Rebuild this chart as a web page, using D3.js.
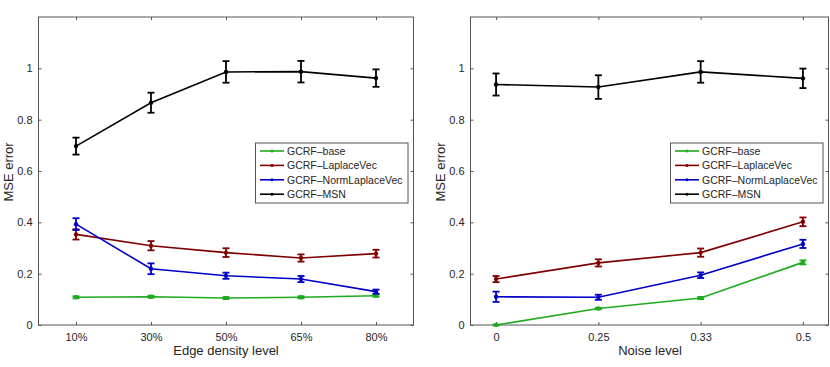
<!DOCTYPE html>
<html><head><meta charset="utf-8">
<script src="https://cdn.jsdelivr.net/npm/d3@7"></script>
<style>body{margin:0;background:#fff}svg{display:block}text{font-family:"Liberation Sans",Arial,sans-serif;fill:#262626}</style>
</head><body>
<script>
const seriesNames = ["GCRF\u2013base","GCRF\u2013LaplaceVec","GCRF\u2013NormLaplaceVec","GCRF\u2013MSN"];
const seriesColors = ["#1faa1f","#7f0000","#0000c8","#000000"];

const leftCategories = ["10%","30%","50%","65%","80%"];
const leftBase = [0.108,0.110,0.105,0.108,0.114];
const leftBaseErr = [0.004,0.004,0.004,0.004,0.004];
const leftLaplace = [0.353,0.309,0.282,0.261,0.278];
const leftLaplaceErr = [0.020,0.018,0.017,0.014,0.015];
const leftNorm = [0.393,0.219,0.192,0.179,0.130];
const leftNormErr = [0.023,0.021,0.012,0.012,0.008];
const leftMSN = [0.697,0.866,0.986,0.987,0.962];
const leftMSNErr = [0.033,0.039,0.042,0.042,0.034];

const rightCategories = ["0","0.25","0.33","0.5"];
const rightBase = [0.0,0.064,0.105,0.244];
const rightBaseErr = [0.002,0.003,0.004,0.008];
const rightLaplace = [0.179,0.242,0.282,0.402];
const rightLaplaceErr = [0.012,0.014,0.016,0.017];
const rightNorm = [0.110,0.108,0.194,0.316];
const rightNormErr = [0.020,0.010,0.011,0.016];
const rightMSN = [0.937,0.927,0.986,0.961];
const rightMSNErr = [0.043,0.046,0.042,0.038];

const yTicks = [0,0.2,0.4,0.6,0.8,1];

const svg = d3.select("body").append("svg").attr("width",830).attr("height",367);

function panel(cfg){
  const g = svg.append("g");
  const n = cfg.cats.length;
  const x = d3.scaleLinear().domain([1 - cfg.pad, n + cfg.pad]).range([cfg.x0, cfg.x1]);
  const y = d3.scaleLinear().domain([0,1.2]).range([325,17]);
  const axisCol = "#555";
  g.append("rect").attr("x",cfg.x0).attr("y",17).attr("width",cfg.x1-cfg.x0).attr("height",308)
    .attr("fill","none").attr("stroke",axisCol).attr("stroke-width",1);
  const idx = d3.range(1,n+1);
  const xb = g.append("g").attr("transform","translate(0,325)")
    .call(d3.axisBottom(x).tickValues(idx).tickFormat((d,i)=>cfg.cats[i]).tickSizeInner(-3).tickSizeOuter(0).tickPadding(8));
  const xt = g.append("g").attr("transform","translate(0,17)")
    .call(d3.axisTop(x).tickValues(idx).tickFormat("").tickSizeInner(-3).tickSizeOuter(0));
  const yl = g.append("g").attr("transform",`translate(${cfg.x0},0)`)
    .call(d3.axisLeft(y).tickValues(yTicks).tickFormat(d3.format("~g")).tickSizeInner(-3).tickSizeOuter(0).tickPadding(6));
  const yr = g.append("g").attr("transform",`translate(${cfg.x1},0)`)
    .call(d3.axisRight(y).tickValues(yTicks).tickFormat("").tickSizeInner(-3).tickSizeOuter(0));
  [xb,xt,yl,yr].forEach(a=>{
    a.select(".domain").remove();
    a.selectAll("line").attr("stroke",axisCol);
    a.selectAll("text").style("font-size","11px").attr("fill","#262626").style("font-family","Liberation Sans, Arial, sans-serif");
  });
  g.append("text").attr("transform",`translate(${cfg.ylx},172) rotate(-90)`).attr("text-anchor","middle")
    .style("font-size","13px").text("MSE error");
  g.append("text").attr("x",(cfg.xlx)).attr("y",355).attr("text-anchor","middle")
    .style("font-size","13px").text(cfg.xlabel);
  const line = d3.line().x((d,i)=>x(i+1)).y(d=>y(d));
  cfg.series.forEach((s,k)=>{
    const col = seriesColors[k];
    g.append("path").datum(s.v).attr("d",line).attr("fill","none").attr("stroke",col).attr("stroke-width",1.6);
    s.v.forEach((v,i)=>{
      const cx = x(i+1), e = s.e[i];
      const eb = g.append("g").attr("stroke",col).attr("stroke-width",1.8);
      eb.append("line").attr("x1",cx).attr("x2",cx).attr("y1",y(v-e)).attr("y2",y(v+e));
      eb.append("line").attr("x1",cx-3.5).attr("x2",cx+3.5).attr("y1",y(v-e)).attr("y2",y(v-e));
      eb.append("line").attr("x1",cx-3.5).attr("x2",cx+3.5).attr("y1",y(v+e)).attr("y2",y(v+e));
      g.append("circle").attr("cx",cx).attr("cy",y(v)).attr("r",2.2).attr("fill",col);
    });
  });
  const lg = g.append("g");
  lg.append("rect").attr("x",cfg.lx).attr("y",143).attr("width",152.5).attr("height",60)
    .attr("fill","#fff").attr("stroke","#555").attr("stroke-width",1);
  seriesNames.forEach((nm,k)=>{
    const yy = 151 + k*14.4;
    lg.append("line").attr("x1",cfg.lx+4.5).attr("x2",cfg.lx+28.5).attr("y1",yy).attr("y2",yy)
      .attr("stroke",seriesColors[k]).attr("stroke-width",1.6);
    lg.append("circle").attr("cx",cfg.lx+16.5).attr("cy",yy).attr("r",1.5).attr("fill",seriesColors[k]);
    lg.append("text").attr("x",cfg.lx+31.5).attr("y",yy+4).style("font-size","10.5px").text(nm);
  });
}

panel({x0:38.5,x1:413.5,pad:0.5,cats:leftCategories,xlabel:"Edge density level",ylx:13,xlx:226,lx:255.5,
  series:[{v:leftBase,e:leftBaseErr},{v:leftLaplace,e:leftLaplaceErr},{v:leftNorm,e:leftNormErr},{v:leftMSN,e:leftMSNErr}]});
panel({x0:470.5,x1:828.5,pad:0.25,cats:rightCategories,xlabel:"Noise level",ylx:445,xlx:650,lx:670.5,
  series:[{v:rightBase,e:rightBaseErr},{v:rightLaplace,e:rightLaplaceErr},{v:rightNorm,e:rightNormErr},{v:rightMSN,e:rightMSNErr}]});
</script>
</body></html>
